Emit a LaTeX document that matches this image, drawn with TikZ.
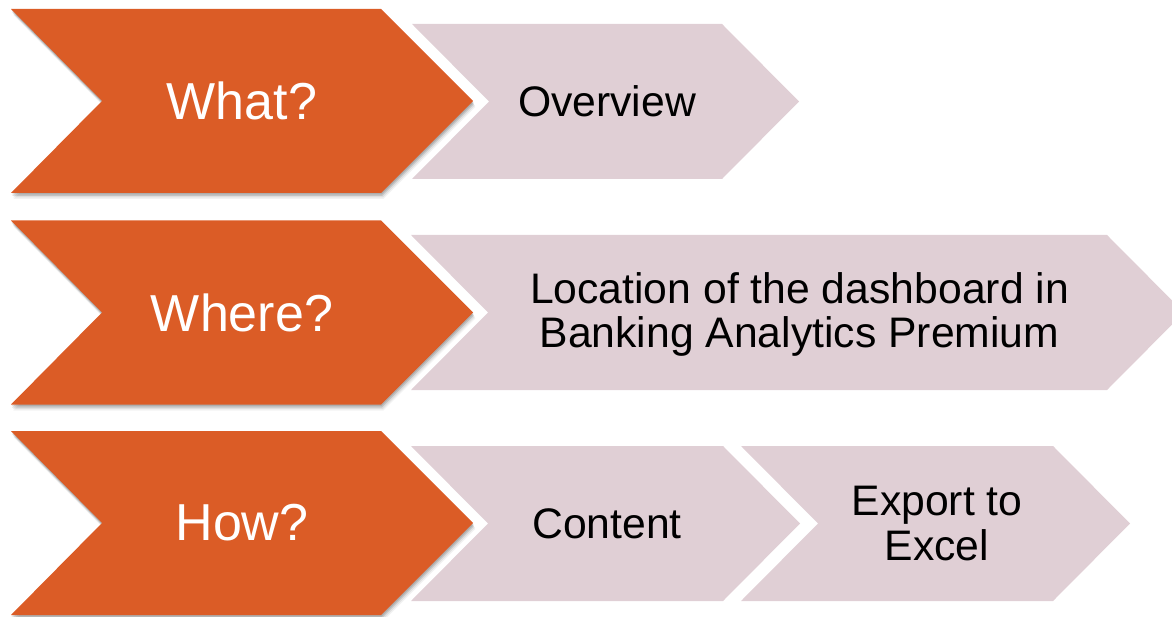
\documentclass[tikz,border=0pt]{standalone}
\usepackage{fontspec}
\setmainfont{Liberation Sans}
\definecolor{chevorange}{RGB}{219,92,38}
\definecolor{chevpink}{RGB}{224,207,213}
\begin{document}
\begin{tikzpicture}[x=1pt,y=-1pt,
  orangetxt/.style={text=white,font=\fontsize{52}{56}\selectfont,align=center},
  pinktxt/.style={text=black,font=\fontsize{42.7}{44.5}\selectfont,align=center}]
\useasboundingbox (0,0) rectangle (1172,617);
\clip (0,0) rectangle (1172,617);
% pink chevrons
\newcommand{\pinkchev}[3]{% xL, xR, T
  \fill[chevpink] (#1,#3) -- (#2,#3) -- (#2+77,#3+77.5) -- (#2,#3+155) -- (#1,#3+155) -- (#1+77,#3+77.5) -- cycle;}
\newcommand{\orangechev}[1]{% T
  \foreach \s/\o in {1.5/0.12,3/0.12,4.5/0.08,6/0.05}{
    \fill[black,opacity=\o] (11+\s*0.4,#1+\s) -- (381+\s*0.4,#1+\s) -- (473+\s*0.4,#1+92+\s) -- (381+\s*0.4,#1+184+\s) -- (11+\s*0.4,#1+184+\s) -- (102+\s*0.4,#1+92+\s) -- cycle;}
  \fill[chevorange] (11,#1) -- (381,#1) -- (473,#1+92) -- (381,#1+184) -- (11,#1+184) -- (102,#1+92) -- cycle;}
\pinkchev{412}{722}{24}
\pinkchev{411}{1107}{235}
\pinkchev{411}{723}{446}
\pinkchev{741}{1053}{446}
\orangechev{9}
\orangechev{220.5}
\orangechev{431}
\node[orangetxt] (what) at (242,101) {What?};
\node[orangetxt] (where) at (242,312.5) {Where?};
\node[orangetxt] (how) at (242,523) {How?};
\node[pinktxt] (overview) at (607,101.5) {Overview};
\node[pinktxt] (location) at (799.5,314.5) {Location of the dashboard in\\Banking Analytics Premium};
\node[pinktxt] (content) at (607,523.5) {Content};
\node[pinktxt] (export) at (937,523.5) {Export to\\Excel};
\end{tikzpicture}
\end{document}
